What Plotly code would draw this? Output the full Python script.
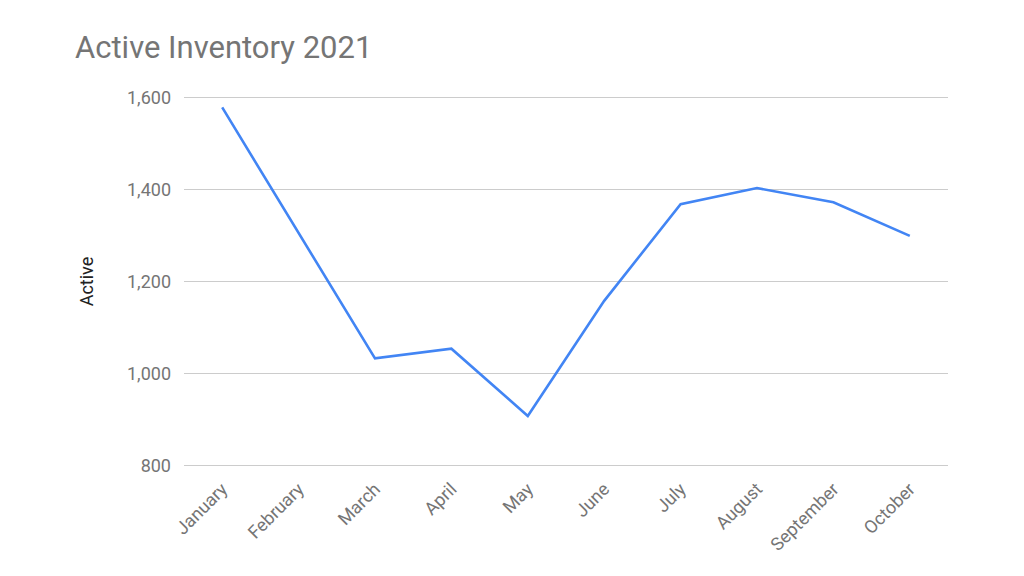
import plotly.graph_objects as go

# Monthly active inventory
months = ['January', 'February', 'March', 'April', 'May', 'June',
          'July', 'August', 'September', 'October']
active = [1578, 1305, 1033, 1054, 908, 1158, 1368, 1403, 1372, 1299]

y_ticks = [800, 1000, 1200, 1400, 1600]
y_tick_labels = ['800', '1,000', '1,200', '1,400', '1,600']

line_trace = go.Scatter(x=months, y=active,
                        mode='lines',
                        name='Active',
                        line=dict(color='#4285F4', width=2.6))

fig = go.Figure(data=[line_trace])

# the page puts the plot 8px in from the top-left corner, so margins are shifted by 8
fig.update_layout(
    width=1024, height=576,
    paper_bgcolor='white', plot_bgcolor='white',
    font=dict(family='Roboto', color='#757575', size=18),
    margin=dict(l=176, r=84, t=87, b=116),
    showlegend=False,
    title=dict(text='Active Inventory 2021', x=67 / 1024, xanchor='left',
               y=1 - 39 / 576, yanchor='middle',
               font=dict(family='Roboto', size=31, color='#757575')),
)

fig.update_xaxes(type='category', range=[-0.5, 9.5], showgrid=False,
                 showline=False, zeroline=False, tickangle=-45,
                 ticks='', ticklabelstandoff=6,
                 tickfont=dict(size=18, color='#757575'))

# range padded a little so the 800 and 1,600 gridlines are not dropped at the edges
fig.update_yaxes(range=[795, 1605], tickvals=y_ticks, ticktext=y_tick_labels,
                 showgrid=True, gridcolor='#CCCCCC', gridwidth=1.3,
                 zeroline=False, showline=False, ticks='',
                 ticklabelstandoff=12,
                 title=dict(text='Active', standoff=28,
                            font=dict(size=18, color='#222222')),
                 tickfont=dict(size=18, color='#757575'))

fig.write_html("out.html")
